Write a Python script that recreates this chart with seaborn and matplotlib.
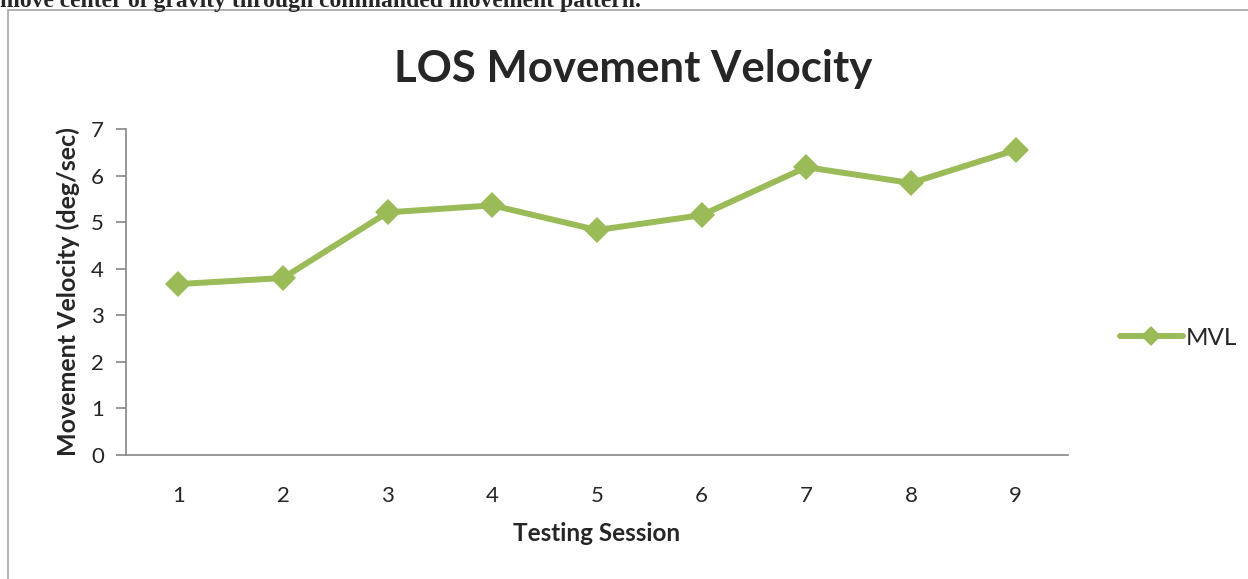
import matplotlib
matplotlib.use("Agg")
import matplotlib.pyplot as plt
from matplotlib.patches import Rectangle
from matplotlib.lines import Line2D
import seaborn as sns
import pandas as pd

# data
sessions = [1, 2, 3, 4, 5, 6, 7, 8, 9]
mvl = [3.67, 3.80, 5.21, 5.36, 4.83, 5.15, 6.18, 5.84, 6.55]

GREEN = "#9BBB59"
GRAY = "#868686"

sns.set_style("white")
plt.rcParams["font.family"] = ["Lato", "DejaVu Sans"]

W, H = 1248, 579
fig = plt.figure(figsize=(W / 100, H / 100), dpi=100)
ax = fig.add_axes([126 / W, 1 - 455 / H, (1068 - 126) / W, (455 - 129) / H])

df = pd.DataFrame({"Testing Session": sessions, "MVL": mvl})
sns.lineplot(data=df, x="Testing Session", y="MVL", ax=ax, color=GREEN,
             linewidth=4.3, marker="D", markersize=13, markeredgewidth=0,
             legend=False)

ax.set_xlim(0.5, 9.5)
ax.set_ylim(0, 7)
ax.set_xticks(sessions)
ax.set_yticks(range(0, 8))
ax.tick_params(axis="x", length=0, pad=22, labelsize=16)
ax.tick_params(axis="y", length=7, width=1.2, color=GRAY, pad=9, labelsize=16,
               left=True)
for s in ["top", "right"]:
    ax.spines[s].set_visible(False)
for s in ["left", "bottom"]:
    ax.spines[s].set_color(GRAY)
    ax.spines[s].set_linewidth(1.2)

ax.set_xlabel("Testing Session", fontsize=17.5, fontweight="bold", labelpad=12)
ax.set_ylabel("Movement Velocity (deg/sec)", fontsize=18, fontweight="bold",
              labelpad=8)
fig.text(633 / W, 1 - 82 / H, "LOS Movement Velocity", ha="center", va="baseline",
         fontsize=31.5, fontweight="bold")

# legend
handle = Line2D([], [], color=GREEN, linewidth=4.3, marker="D", markersize=10,
                markeredgewidth=0)
fig.legend([handle], ["MVL"], loc="center left",
           bbox_to_anchor=(1098 / W, 1 - 338 / H), frameon=False,
           fontsize=17.5, handlelength=2.6, handletextpad=0.1)

# outer chart frame and clipped caption line from the page
fig.add_artist(Rectangle((8 / W, -0.1), 1.2, 1.1 - 10 / H, fill=False,
                         edgecolor="#A6A6A6", linewidth=1.2,
                         transform=fig.transFigure))
fig.text(0.0, 1 - 7 / H, "move center of gravity through commanded movement pattern.",
         family="Liberation Serif", fontweight="bold", fontsize=17,
         va="baseline", ha="left")

fig.savefig("out.png", dpi=100)
